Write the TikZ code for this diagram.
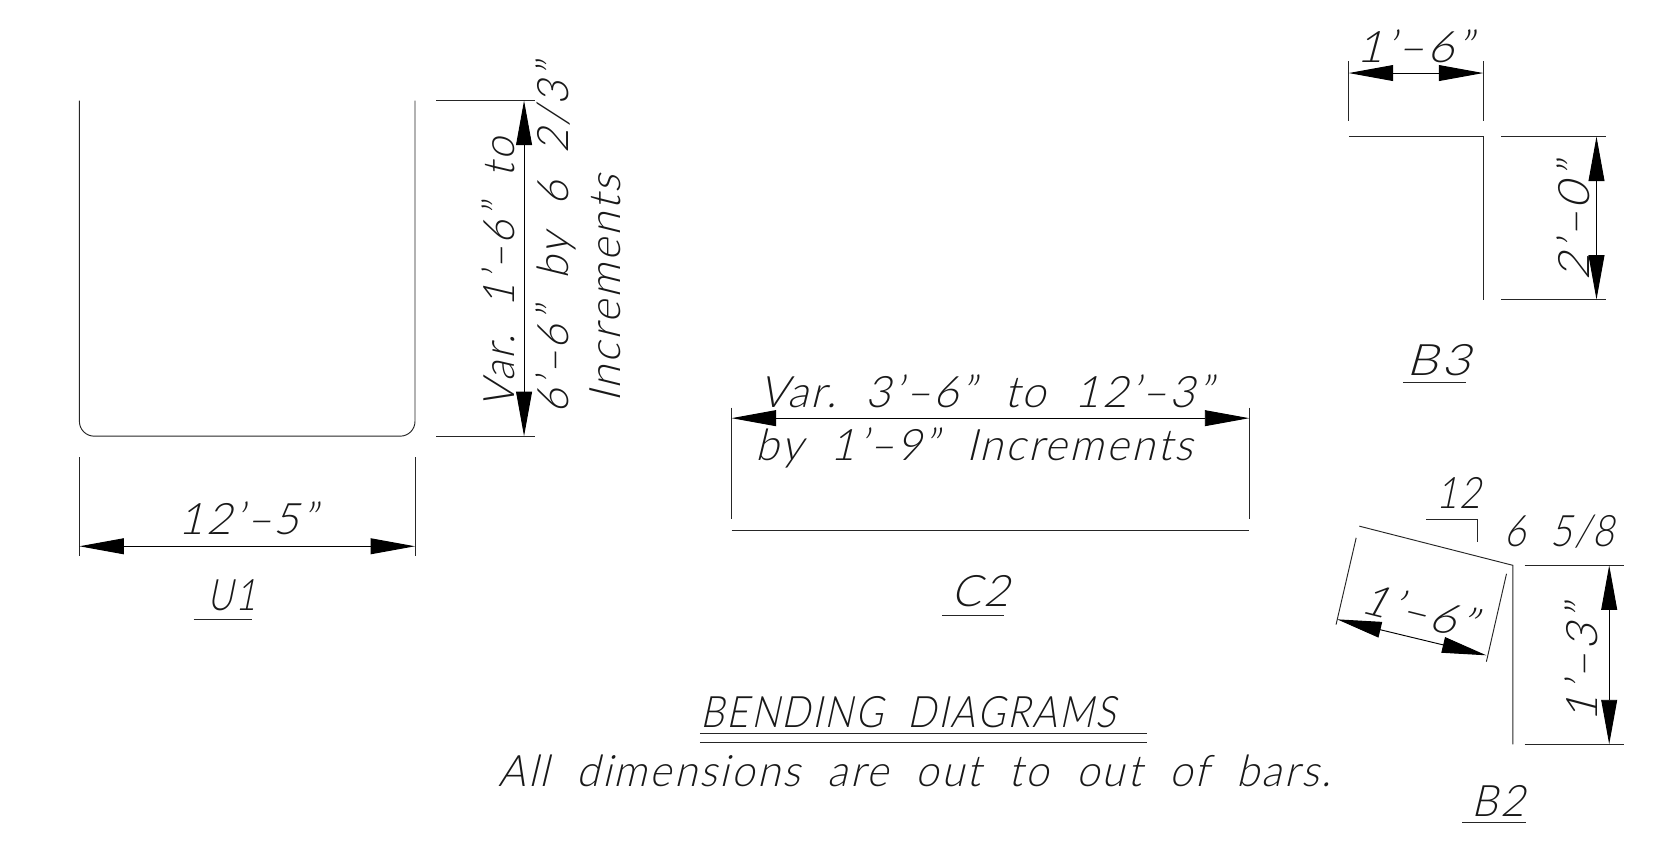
\documentclass[tikz,border=0pt]{standalone}
\usepackage{fontspec}
\usepackage{graphicx}
\usetikzlibrary{arrows.meta}
\newfontfamily\cadfont[FakeSlant=0.25,LetterSpace=6]{Lato Light}
\newcommand{\fitt}[2]{\resizebox{#1pt}{\height}{#2}}
\tikzset{
  x=1pt,y=-1pt,
  thinline/.style={line width=0.9pt,color=black!85},
  dimline/.style={line width=0.9pt,color=black,{Triangle[length=42pt,width=15pt]}-{Triangle[length=42pt,width=15pt]}},
  cad/.style={inner sep=0pt,outer sep=0pt,font=\cadfont\fontsize{41}{43}\selectfont,color=black!90},
}
\begin{document}
\begin{tikzpicture}
\useasboundingbox (0,0) rectangle (1568,799.1);
% ---- U1
\draw[thinline,rounded corners=14pt] (75,95) -- (75,412) -- (392,412) -- (392,95);
\coordinate (ua1) at (412,95);  \coordinate (ua2) at (505,95);
\coordinate (ub1) at (412,412); \coordinate (ub2) at (505,412);
\draw[thinline] (ua1) -- (ua2);
\draw[thinline] (ub1) -- (ub2);
\coordinate (uat) at (495,95); \coordinate (uab) at (495,412);
\draw[dimline] (uat) -- (uab);
\coordinate (uc1) at (75,432);  \coordinate (uc2) at (75,525);
\coordinate (ud1) at (392,432); \coordinate (ud2) at (392,525);
\draw[thinline] (uc1) -- (uc2);
\draw[thinline] (ud1) -- (ud2);
\coordinate (ul) at (75,516); \coordinate (ur) at (392,516);
\draw[dimline] (ul) -- (ur);
\node[cad] (t12) at (234,490) {\fitt{130}{12’–5”}};
\node[cad] (tU) at (219,562) {\fitt{46}{U1}};
\coordinate (uu1) at (183,585); \coordinate (uu2) at (238,585);
\draw[thinline] (uu1) -- (uu2);
\node[cad,rotate=90] (tvar1) at (471,258) {\fitt{255}{Var.\ \ 1’–6”\ \ to}};
\node[cad,rotate=90] (tvar2) at (525,226) {\fitt{330}{6’–6”\ \ by\ \ 6\ \ 2/3”}};
\node[cad,rotate=90] (tvar3) at (572,273) {\fitt{215}{Increments}};
% ---- C2
\coordinate (ca1) at (691,385); \coordinate (ca2) at (691,490);
\coordinate (cb1) at (1180,385); \coordinate (cb2) at (1180,490);
\draw[thinline] (ca1) -- (ca2);
\draw[thinline] (cb1) -- (cb2);
\coordinate (cl) at (691,395); \coordinate (cr) at (1180,395);
\draw[dimline] (cl) -- (cr);
\coordinate (cbar1) at (691,501); \coordinate (cbar2) at (1180,501);
\draw[thinline] (cbar1) -- (cbar2);
\node[cad] (tc1) at (931,370) {\fitt{428}{Var.\ \ 3’–6”\ \ to\ \ 12’–3”}};
\node[cad] (tc2) at (920,423) {\fitt{412}{by\ \ 1’–9”\ \ Increments}};
\node[cad] (tC) at (926,558) {\fitt{55}{C2}};
\coordinate (cu1) at (890,581); \coordinate (cu2) at (948,581);
\draw[thinline] (cu1) -- (cu2);
% ---- title
\node[cad] (tb) at (858,673) {\fitt{392}{BENDING\ \ DIAGRAMS}};
\coordinate (b1) at (661,693); \coordinate (b2) at (1083,693);
\coordinate (b3) at (661,701); \coordinate (b4) at (1083,701);
\draw[thinline] (b1) -- (b2);
\draw[thinline] (b3) -- (b4);
\node[cad] (ta) at (864,728) {\fitt{786}{All\ \ dimensions\ \ are\ \ out\ \ to\ \ out\ \ of\ \ bars.}};
% ---- B3
\coordinate (b3a) at (1274,129); \coordinate (b3b) at (1401,129); \coordinate (b3c) at (1401,283);
\draw[thinline] (b3a) -- (b3b) -- (b3c);
\coordinate (b3d) at (1274,58); \coordinate (b3e) at (1274,114);
\coordinate (b3f) at (1401,58); \coordinate (b3g) at (1401,114);
\draw[thinline] (b3d) -- (b3e);
\draw[thinline] (b3f) -- (b3g);
\coordinate (b3l) at (1274,69); \coordinate (b3r) at (1401,69);
\draw[dimline] (b3l) -- (b3r);
\node[cad] (t16) at (1336,44) {\fitt{110}{1’–6”}};
\coordinate (b3h) at (1418,129); \coordinate (b3i) at (1517,129);
\coordinate (b3j) at (1418,283); \coordinate (b3k) at (1517,283);
\draw[thinline] (b3h) -- (b3i);
\draw[thinline] (b3j) -- (b3k);
\coordinate (b3t) at (1508,129); \coordinate (b3o) at (1508,283);
\draw[dimline] (b3t) -- (b3o);
\node[cad,rotate=90] (t20) at (1486,210) {\fitt{110}{2’–0”}};
\node[cad] (tB3) at (1359,340) {\fitt{60}{B3}};
\coordinate (b3u1) at (1325,361); \coordinate (b3u2) at (1385,361);
\draw[thinline] (b3u1) -- (b3u2);
% ---- B2
\coordinate (b2a) at (1284,497); \coordinate (b2b) at (1429,534); \coordinate (b2c) at (1429,703);
\draw[thinline] (b2a) -- (b2b) -- (b2c);
\coordinate (s1) at (1347,491); \coordinate (s2) at (1396,491); \coordinate (s3) at (1396,512);
\draw[thinline] (s1) -- (s2) -- (s3);
\node[cad] (t12b) at (1378,466) {\fitt{42}{12}};
\node[cad] (t658) at (1473,502) {\fitt{104}{6\ \ 5/8}};
\coordinate (b2d) at (1440,534); \coordinate (b2e) at (1534,534);
\coordinate (b2f) at (1440,703); \coordinate (b2g) at (1534,703);
\draw[thinline] (b2d) -- (b2e);
\draw[thinline] (b2f) -- (b2g);
\coordinate (b2t) at (1520,534); \coordinate (b2o) at (1520,703);
\draw[dimline] (b2t) -- (b2o);
\node[cad,rotate=90] (t13) at (1494,627) {\fitt{110}{1’–3”}};
\coordinate (r1) at (1281,508); \coordinate (r2) at (1262,590);
\coordinate (r3) at (1423,542); \coordinate (r4) at (1404,625);
\draw[thinline] (r1) -- (r2);
\draw[thinline] (r3) -- (r4);
\coordinate (ra) at (1263,585); \coordinate (rb) at (1404,619);
\draw[dimline] (ra) -- (rb);
\node[cad,rotate=-14] (t16b) at (1340,577) {\fitt{108}{1’–6”}};
\node[cad] (tB2) at (1415,757) {\fitt{50}{B2}};
\coordinate (b2u1) at (1381,777); \coordinate (b2u2) at (1441,777);
\draw[thinline] (b2u1) -- (b2u2);
\end{tikzpicture}
\end{document}
